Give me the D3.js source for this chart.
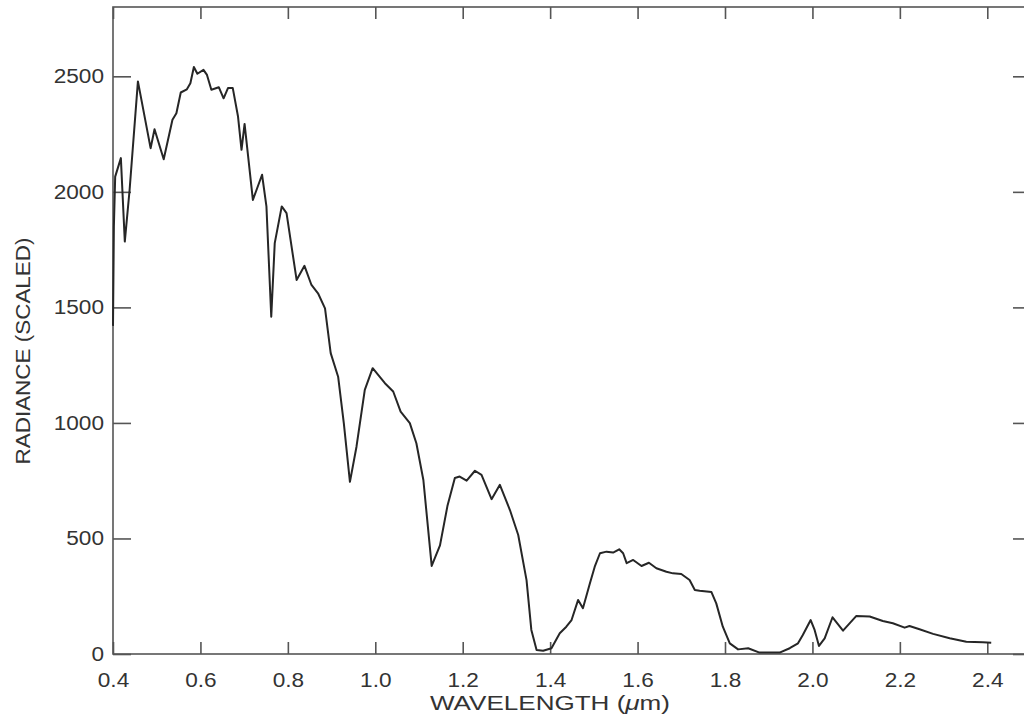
<!DOCTYPE html>
<html>
<head>
<meta charset="utf-8">
<script src="https://cdn.jsdelivr.net/npm/d3@7"></script>
<style>
  html, body { margin: 0; padding: 0; background: #fff; }
  text { font-family: "Liberation Sans", Arial, sans-serif; fill: #333; }
</style>
</head>
<body>
<div id="chart"></div>
<script>
// Data (wavelength in um, radiance scaled)
const wavelength = [
  0.400, 0.402, 0.405, 0.418, 0.427, 0.438, 0.457, 0.486, 0.495, 0.516,
  0.536, 0.545, 0.555, 0.569, 0.577, 0.585, 0.593, 0.607, 0.615, 0.625,
  0.642, 0.653, 0.663, 0.674, 0.686, 0.694, 0.701, 0.720, 0.741, 0.751,
  0.762, 0.770, 0.786, 0.797, 0.820, 0.838, 0.854, 0.869, 0.885, 0.898,
  0.915, 0.928, 0.942, 0.957, 0.976, 0.994, 1.022, 1.041, 1.058, 1.079,
  1.094, 1.110, 1.129, 1.148, 1.165, 1.182, 1.193, 1.209, 1.228, 1.243,
  1.266, 1.285, 1.308, 1.327, 1.346, 1.357, 1.369, 1.384, 1.403, 1.422,
  1.437, 1.449, 1.464, 1.475, 1.491, 1.502, 1.514, 1.529, 1.544, 1.558,
  1.567, 1.575, 1.590, 1.609, 1.626, 1.643, 1.666, 1.681, 1.700, 1.719,
  1.731, 1.742, 1.769, 1.780, 1.795, 1.811, 1.830, 1.853, 1.879, 1.925,
  1.948, 1.967, 1.978, 1.996, 2.005, 2.015, 2.028, 2.046, 2.070, 2.100,
  2.131, 2.161, 2.184, 2.211, 2.222, 2.245, 2.276, 2.314, 2.352, 2.390,
  2.409
];
const radiance = [
  1420, 1850, 2066, 2146, 1785, 2009, 2478, 2189, 2271, 2141,
  2312, 2340, 2430, 2444, 2470, 2540, 2511, 2528, 2506, 2442,
  2453, 2405, 2449, 2449, 2326, 2182, 2294, 1965, 2074, 1937,
  1460, 1778, 1937, 1908, 1619, 1680, 1597, 1561, 1496, 1302,
  1200, 999, 745, 897, 1143, 1237, 1172, 1136, 1049, 999,
  912, 753, 381, 470, 640, 762, 768, 750, 793, 775,
  670, 732, 623, 515, 320, 104, 17, 14, 25, 90,
  118, 147, 234, 198, 306, 378, 436, 443, 439, 453,
  436, 393, 407, 381, 395, 371, 356, 349, 346, 320,
  277, 274, 268, 219, 118, 46, 20, 25, 6, 6,
  25, 46, 82, 147, 104, 35, 68, 159, 101, 164,
  162, 143, 133, 114, 121, 107, 87, 68, 53, 51,
  49
];
const xTicks = [0.4, 0.6, 0.8, 1.0, 1.2, 1.4, 1.6, 1.8, 2.0, 2.2, 2.4];
const yTicks = [0, 500, 1000, 1500, 2000, 2500];

const W = 1024, H = 727;
const margin = { top: 7, left: 113 };
const plotW = 918, plotH = 647;
const stretch = 1.13; // the lettering in the original is a bit wide

const svg = d3.select('#chart')
  .append('svg')
  .attr('width', W)
  .attr('height', H);

const x = d3.scaleLinear().domain([0.4, 2.5]).range([margin.left, margin.left + plotW]);
const y = d3.scaleLinear().domain([0, 2800]).range([margin.top + plotH, margin.top]);

const axisColor = '#555';

function widen(sel) {
  sel.each(function () {
    const len = this.getComputedTextLength();
    d3.select(this).attr('textLength', len * stretch).attr('lengthAdjust', 'spacingAndGlyphs');
  });
}

// frame
svg.append('rect')
  .attr('x', x(0.4)).attr('y', y(2800))
  .attr('width', plotW).attr('height', plotH)
  .attr('fill', 'none')
  .attr('stroke', axisColor)
  .attr('stroke-width', 1.6);

// bottom axis: inward ticks, labels below
const axBottom = svg.append('g')
  .attr('transform', `translate(0,${y(0)})`)
  .call(d3.axisBottom(x).tickValues(xTicks).tickFormat(d3.format('.1f'))
    .tickSizeInner(-12).tickSizeOuter(0).tickPadding(19));
axBottom.select('.domain').remove();
axBottom.selectAll('line').attr('stroke', axisColor).attr('stroke-width', 1.6);
axBottom.selectAll('text').attr('font-size', 20).style('fill', '#333').call(widen);

// top axis ticks
const axTop = svg.append('g')
  .attr('transform', `translate(0,${y(2800)})`)
  .call(d3.axisTop(x).tickValues(xTicks).tickFormat('').tickSizeInner(-12).tickSizeOuter(0));
axTop.select('.domain').remove();
axTop.selectAll('line').attr('stroke', axisColor).attr('stroke-width', 1.6);

// left axis
const axLeft = svg.append('g')
  .attr('transform', `translate(${x(0.4)},0)`)
  .call(d3.axisLeft(y).tickValues(yTicks).tickFormat(d3.format('d'))
    .tickSizeInner(-18).tickSizeOuter(0).tickPadding(9));
axLeft.select('.domain').remove();
axLeft.selectAll('line').attr('stroke', axisColor).attr('stroke-width', 1.6);
axLeft.selectAll('text').attr('font-size', 20).style('fill', '#333').call(widen);

// right axis ticks
const axRight = svg.append('g')
  .attr('transform', `translate(${x(2.5)},0)`)
  .call(d3.axisRight(y).tickValues(yTicks).tickFormat('').tickSizeInner(-18).tickSizeOuter(0));
axRight.select('.domain').remove();
axRight.selectAll('line').attr('stroke', axisColor).attr('stroke-width', 1.6);

// spectrum line
const points = wavelength.map((w, i) => [w, radiance[i]]);
svg.append('path')
  .datum(points)
  .attr('fill', 'none')
  .attr('stroke', '#262626')
  .attr('stroke-width', 2)
  .attr('stroke-linejoin', 'round')
  .attr('d', d3.line().x(d => x(d[0])).y(d => y(d[1])));

// axis titles
const xt = svg.append('text')
  .attr('x', 550)
  .attr('y', 710)
  .attr('text-anchor', 'middle')
  .attr('font-size', 21)
  .attr('textLength', 240)
  .attr('lengthAdjust', 'spacingAndGlyphs');
xt.append('tspan').text('WAVELENGTH (');
xt.append('tspan').attr('font-style', 'italic').text('\u03bc');
xt.append('tspan').text('m)');

svg.append('text')
  .attr('transform', 'translate(30,351) rotate(-90)')
  .attr('text-anchor', 'middle')
  .attr('font-size', 21)
  .attr('textLength', 227)
  .attr('lengthAdjust', 'spacingAndGlyphs')
  .text('RADIANCE (SCALED)');
</script>
</body>
</html>
